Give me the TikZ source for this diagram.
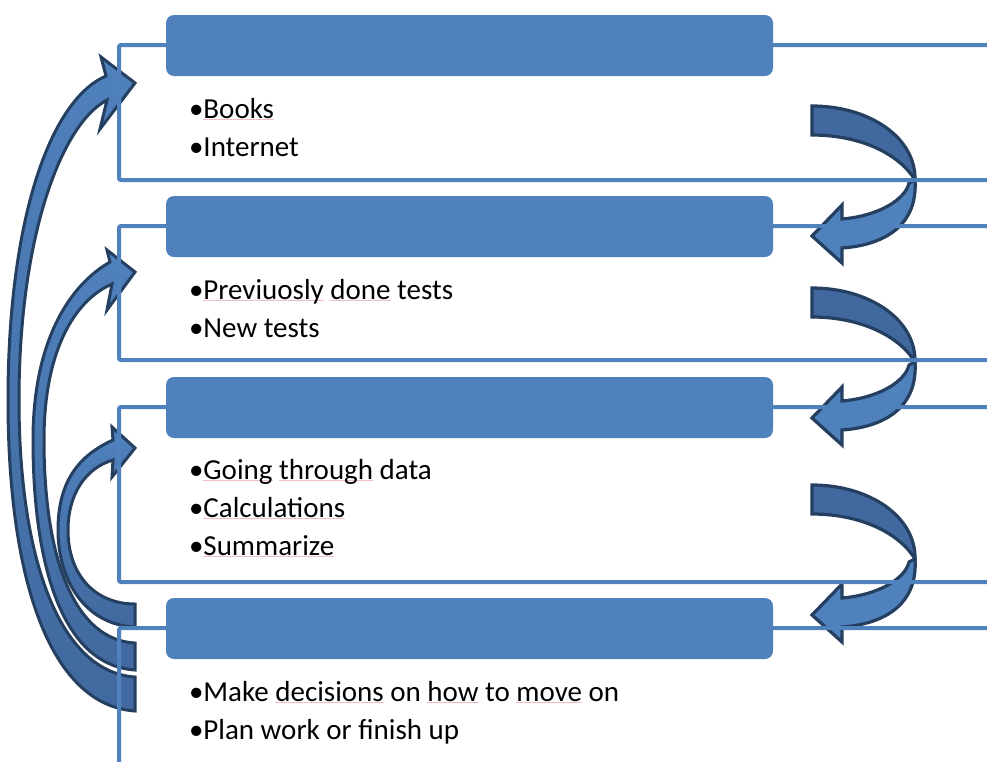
\documentclass[tikz,border=0pt]{standalone}
\usepackage{fontspec}
\setmainfont{Carlito}
\definecolor{accent}{HTML}{4F81BD}
\definecolor{darkedge}{HTML}{243F60}
\definecolor{backband}{HTML}{41699F}
\definecolor{spellc}{HTML}{F5BDBD}
\newsavebox\spbox
\newcommand\spell[1]{\sbox\spbox{#1}\rlap{\color{spellc}\rule[-2pt]{\wd\spbox}{0.8pt}}\usebox\spbox}
\begin{document}
\begin{tikzpicture}[x=1pt,y=-1pt,
  frameline/.style={draw=accent, line width=4pt, rounded corners=2pt},
  headbox/.style={fill=accent, draw=none, rounded corners=8pt, minimum width=607pt, minimum height=61pt, anchor=north west, inner sep=0pt, outer sep=0pt},
  leftarrow/.style={draw=darkedge, line width=3pt, line join=miter, top color=accent, bottom color=backband},
  rightback/.style={draw=darkedge, line width=3.2pt, line join=miter, fill=backband},
  rightfront/.style={draw=darkedge, line width=3.2pt, line join=miter, fill=accent},
  item/.style={anchor=base west, inner sep=0pt, outer sep=0pt, font=\fontsize{29}{35}\selectfont}]
\useasboundingbox (0,0) rectangle (987,761);
\clip (0,0) rectangle (987,761);
% left curved arrows
\path[leftarrow] (135,711) .. controls (50,705) and (8,580) .. (8,400)
  .. controls (8,220) and (50,100) .. (106,76) -- (101,57) -- (135,83) -- (100,129) -- (107,100)
  .. controls (60,125) and (19,240) .. (19,400) .. controls (19,560) and (60,672) .. (135,677) -- cycle;
\path[leftarrow] (135,670) .. controls (60,665) and (33,560) .. (33,440)
  .. controls (33,340) and (70,285) .. (110,262) -- (107,250) -- (135,272) -- (107,310) -- (112,284)
  .. controls (75,300) and (44,350) .. (44,440) .. controls (44,560) and (75,640) .. (135,643) -- cycle;
\path[leftarrow] (135,627) .. controls (85,625) and (58,580) .. (58,530)
  .. controls (58,480) and (80,455) .. (113,440) -- (112,427) -- (135,448) -- (112,477) -- (113,460)
  .. controls (85,468) and (68,495) .. (68,530) .. controls (68,575) and (95,604) .. (135,604) -- cycle;
% right curved arrows
\foreach \dy in {0,182,379}{
  \begin{scope}[yshift=-\dy pt]
    \path[rightback] (812,106) .. controls (870,106) and (916,138) .. (915,180)
      .. controls (900,155) and (862,135) .. (812,135) -- cycle;
    \path[rightfront] (915,180) .. controls (918,225) and (885,245) .. (842,248) -- (842,263)
      -- (812,236) -- (842,205) -- (842,219) .. controls (878,216) and (905,200) .. (909,183) -- cycle;
  \end{scope}
}
% frames
\draw[frameline] (995,45) -- (119,45) -- (119,180) -- (995,180);
\draw[frameline] (995,226) -- (119,226) -- (119,360) -- (995,360);
\draw[frameline] (995,407) -- (119,407) -- (119,582) -- (995,582);
\draw[frameline] (995,628) -- (119,628) -- (119,770);
% headers
\node[headbox] (h1) at (166,15) {};
\node[headbox] (h2) at (166,196) {};
\node[headbox] (h3) at (166,377) {};
\node[headbox] (h4) at (166,598) {};
% texts
\node[item] (t11) at (189,118) {•\spell{Books}};
\node[item] (t12) at (189,156) {•Internet};
\node[item] (t21) at (189,299) {•\spell{Previuosly} \spell{done} tests};
\node[item] (t22) at (189,337) {•New tests};
\node[item] (t31) at (189,479) {•\spell{Going} \spell{through} data};
\node[item] (t32) at (189,517) {•\spell{Calculations}};
\node[item] (t33) at (189,555) {•\spell{Summarize}};
\node[item] (t41) at (189,701) {•Make \spell{decisions} on \spell{how} to \spell{move} on};
\node[item] (t42) at (189,739) {•Plan work or finish up};
\end{tikzpicture}
\end{document}
